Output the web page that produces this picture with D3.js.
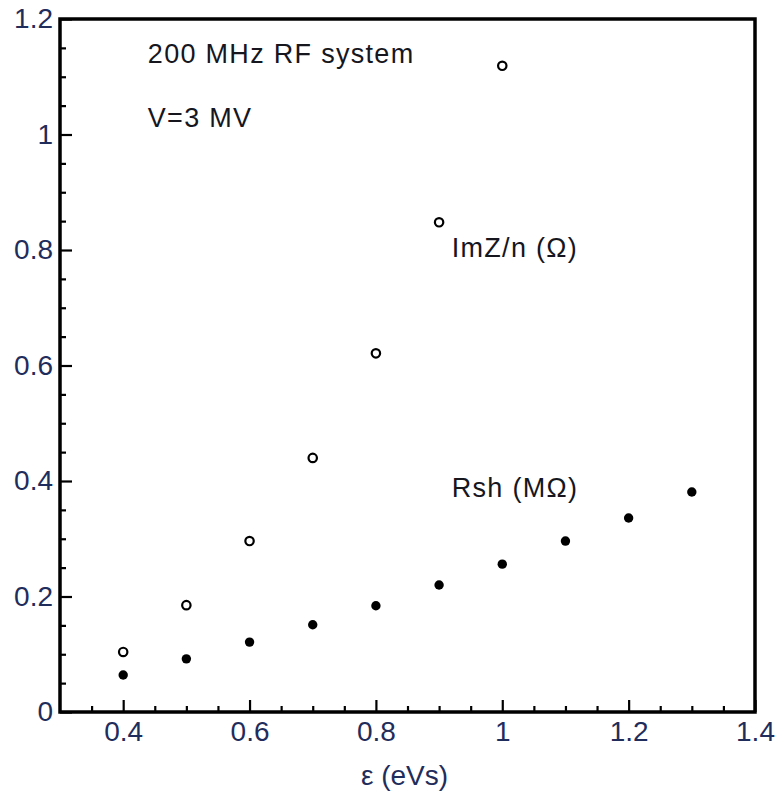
<!DOCTYPE html>
<html>
<head>
<meta charset="utf-8">
<script src="https://cdn.jsdelivr.net/npm/d3@7"></script>
<style>
  body { margin: 0; background: #fff; }
  text { font-family: "Liberation Sans", Arial, sans-serif; }
</style>
</head>
<body>
<div id="chart"></div>
<script>
// DATA
const imzEps = [0.4, 0.5, 0.6, 0.7, 0.8, 0.9, 1.0]
const imzValues = [0.104, 0.185, 0.296, 0.44, 0.621, 0.848, 1.119]
const rshEps = [0.4, 0.5, 0.6, 0.7, 0.8, 0.9, 1.0, 1.1, 1.2, 1.3]
const rshValues = [0.064, 0.092, 0.121, 0.151, 0.184, 0.22, 0.256, 0.296, 0.336, 0.381]
const xTickLabels = [0.4, 0.6, 0.8, 1, 1.2, 1.4]
const yTickLabels = [0, 0.2, 0.4, 0.6, 0.8, 1, 1.2]

// DIMENSIONS
const dimensions = {
  width: 777,
  height: 793,
  margin: { top: 19, right: 22, bottom: 81, left: 60 },
}
dimensions.boundedWidth = dimensions.width - dimensions.margin.left - dimensions.margin.right
dimensions.boundedHeight = dimensions.height - dimensions.margin.top - dimensions.margin.bottom

const wrapper = d3.select("#chart")
  .append("svg")
  .attr("width", dimensions.width)
  .attr("height", dimensions.height)
const bounds = wrapper.append("g")
  .attr("transform", `translate(${dimensions.margin.left},${dimensions.margin.top})`)

const xScale = d3.scaleLinear()
  .domain([0.3, 1.4])
  .range([0, dimensions.boundedWidth])
const yScale = d3.scaleLinear()
  .domain([0, 1.2])
  .range([dimensions.boundedHeight, 0])

const labelColor = "#1f2d5c"

// minor ticks every 0.05
const xMinor = d3.range(0.35, 1.4, 0.05).filter(v => !xTickLabels.some(t => Math.abs(t - v) < 1e-6))
const yMinor = d3.range(0.05, 1.2, 0.05).filter(v => !yTickLabels.some(t => Math.abs(t - v) < 1e-6))

const xAxisMinor = d3.axisBottom(xScale).tickValues(xMinor).tickSize(-6).tickFormat("")
const xAxisMajor = d3.axisBottom(xScale).tickValues(xTickLabels).tickSize(-12).tickPadding(9)
  .tickFormat(d3.format("~g"))
const yAxisMinor = d3.axisLeft(yScale).tickValues(yMinor).tickSize(-6).tickFormat("")
const yAxisMajor = d3.axisLeft(yScale).tickValues(yTickLabels).tickSize(-12).tickPadding(7)
  .tickFormat(d3.format("~g"))

const styleAxis = g => {
  g.select(".domain").remove()
  g.selectAll(".tick line").attr("stroke", "#000").attr("stroke-width", 2.2)
  g.selectAll(".tick text")
    .attr("fill", labelColor)
    .style("font-size", "28px")
}

bounds.append("g").attr("transform", `translate(0,${dimensions.boundedHeight})`).call(xAxisMinor).call(styleAxis)
bounds.append("g").attr("transform", `translate(0,${dimensions.boundedHeight})`).call(xAxisMajor).call(styleAxis)
bounds.append("g").call(yAxisMinor).call(styleAxis)
bounds.append("g").call(yAxisMajor).call(styleAxis)

// frame
bounds.append("rect")
  .attr("x", 0).attr("y", 0)
  .attr("width", dimensions.boundedWidth)
  .attr("height", dimensions.boundedHeight)
  .attr("fill", "none")
  .attr("stroke", "#000")
  .attr("stroke-width", 3.5)

// x-axis label
bounds.append("text")
  .attr("x", dimensions.boundedWidth / 2 - 3)
  .attr("y", dimensions.boundedHeight + 73)
  .attr("text-anchor", "middle")
  .attr("fill", labelColor)
  .style("font-size", "28px")
  .text("ε (eVs)")

// POINTS
bounds.append("g")
  .selectAll("circle")
  .data(d3.zip(imzEps, imzValues))
  .join("circle")
    .attr("cx", d => xScale(d[0]))
    .attr("cy", d => yScale(d[1]))
    .attr("r", 4.2)
    .attr("fill", "#fff")
    .attr("stroke", "#000")
    .attr("stroke-width", 2.2)

bounds.append("g")
  .selectAll("circle")
  .data(d3.zip(rshEps, rshValues))
  .join("circle")
    .attr("cx", d => xScale(d[0]))
    .attr("cy", d => yScale(d[1]))
    .attr("r", 4.7)
    .attr("fill", "#000")

// ANNOTATIONS
const notes = [
  { x: 0.439, y: 1.124, text: "200 MHz RF system" },
  { x: 0.439, y: 1.013, text: "V=3 MV" },
  { x: 0.92, y: 0.788, text: "ImZ/n (Ω)" },
  { x: 0.92, y: 0.372, text: "Rsh (MΩ)" },
]
bounds.append("g")
  .selectAll("text")
  .data(notes)
  .join("text")
    .attr("x", d => xScale(d.x))
    .attr("y", d => yScale(d.y))
    .attr("fill", "#16161e")
    .style("font-size", "27px")
    .style("letter-spacing", "1.3px")
    .text(d => d.text)
</script>
</body>
</html>
